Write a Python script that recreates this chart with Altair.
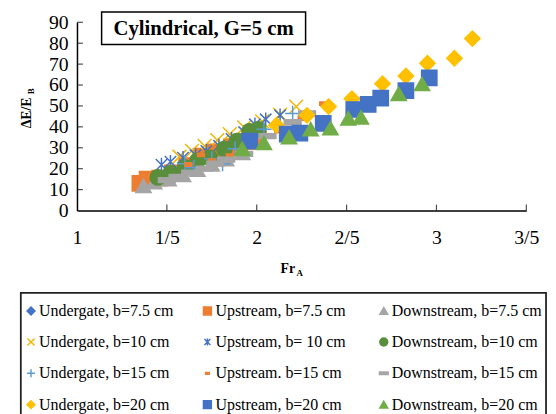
import altair as alt
import pandas as pd

series_names = [
    "Undergate, b=7.5 cm", "Upstream, b=7.5 cm", "Downstream, b=7.5 cm",
    "Undergate, b=10 cm", "Upstream, b= 10 cm", "Downstream, b=10 cm",
    "Undergate, b=15 cm", "Upstream. b=15 cm", "Downstream, b=15 cm",
    "Undergate, b=20 cm", "Upstream, b=20 cm", "Downstream, b=20 cm",
]
series_colors = [
    "#4472C4", "#ED7D31", "#A5A5A5",
    "#F2B600", "#4472C4", "#588E3C",
    "#5B9BD5", "#ED7D31", "#A5A5A5",
    "#FFC000", "#4472C4", "#70AD47",
]
series_shapes = [
    "diamond", "square", "triangle-up",
    "M-0.9,-0.9L0.9,0.9M-0.9,0.9L0.9,-0.9",
    "M-0.75,-0.75L0.75,0.75M-0.75,0.75L0.75,-0.75M0,-0.9L0,0.9",
    "circle",
    "M-1,0H1M0,-1V1",
    "M-0.45,-0.22H0.45V0.22H-0.45Z",
    "M-1.1,-0.32H1.1V0.32H-1.1Z",
    "diamond", "square", "triangle-up",
]

# Fr_A values per series
x_vals = [
    [1.45, 1.52, 1.60, 1.67, 1.74, 1.82],
    [1.35, 1.39, 1.46, 1.53, 1.61, 1.69, 1.77, 1.86, 1.95, 2.01],
    [1.37, 1.43, 1.51, 1.59, 1.67, 1.75, 1.83, 1.92],
    [1.57, 1.64, 1.71, 1.78, 1.85, 1.93, 2.03, 2.13, 2.22],
    [1.47, 1.52, 1.59, 1.66, 1.72, 1.79, 1.86, 1.93, 1.99, 2.05, 2.13],
    [1.45, 1.52, 1.60, 1.67, 1.74, 1.82, 1.89, 1.96, 2.01],
    [1.60, 1.65, 1.75, 1.81, 1.88, 2.04, 2.20],
    [1.62, 1.69, 1.75, 1.85, 1.93, 2.01, 2.12, 2.25, 2.37],
    [1.50, 1.56, 1.63, 1.71, 1.77, 1.83, 1.93, 2.06, 2.20, 2.28],
    [2.11, 2.28, 2.40, 2.53, 2.70, 2.83, 2.95, 3.10, 3.20],
    [1.96, 2.17, 2.24, 2.37, 2.54, 2.62, 2.69, 2.83, 2.96],
    [1.92, 2.04, 2.18, 2.30, 2.41, 2.51, 2.58, 2.79, 2.92],
]
# dE/E_B values per series
y_vals = [
    [15.8, 17.7, 20.5, 23.8, 25.2, 29.4],
    [13.0, 15.0, 15.5, 18.0, 21.5, 26.0, 28.0, 30.5, 33.0, 34.0],
    [11.8, 13.5, 15.0, 17.0, 19.5, 22.0, 24.5, 27.5],
    [25.7, 28.5, 30.9, 33.7, 36.5, 39.8, 42.6, 45.9, 49.7],
    [21.9, 23.3, 25.2, 26.5, 28.5, 31.0, 34.2, 37.5, 41.2, 43.6, 45.5],
    [15.8, 17.7, 20.5, 23.8, 25.2, 29.4, 33.2, 37.9, 38.8],
    [22.4, 20.5, 24.7, 22.4, 29.5, 38.9, 46.4],
    [22.0, 26.6, 23.8, 26.2, 30.0, 33.7, 38.0, 44.0, 51.1],
    [14.5, 16.0, 18.1, 20.0, 22.4, 24.3, 27.1, 35.6, 42.2, 46.4],
    [40.8, 45.5, 49.7, 53.5, 60.6, 64.3, 70.4, 72.8, 82.2],
    [33.2, 36.5, 37.0, 41.7, 48.3, 50.7, 53.7, 57.3, 63.4],
    [29.5, 32.3, 35.1, 38.9, 39.4, 44.1, 44.5, 55.8, 60.5],
]

x_ticks = [1, 1.5, 2, 2.5, 3, 3.5]
y_ticks = [0, 10, 20, 30, 40, 50, 60, 70, 80, 90]
chart_title = "Cylindrical, G=5 cm"

rows = []
for i, name in enumerate(series_names):
    for xv, yv in zip(x_vals[i], y_vals[i]):
        rows.append({"series": name, "order": i, "Fr": xv, "dE": yv})
df = pd.DataFrame(rows)

W, H = 456, 191
SERIF = "Liberation Serif"

xscale = alt.Scale(domain=[1, 3.5], nice=False, zero=False)
yscale = alt.Scale(domain=[0, 90], nice=False)

x_axis = alt.Axis(
    values=x_ticks, labelExpr="replace(toString(datum.value), '.', '/')",
    labelFont=SERIF, labelFontSize=20, labelColor="black", labelPadding=17,
    labelFlush=False, labelOverlap=False, tickSize=0, domainColor="black",
    domainWidth=1.5, grid=False, title=None)
y_axis = alt.Axis(
    values=y_ticks, labelFont=SERIF, labelFontSize=20, labelColor="black",
    labelPadding=9, labelOverlap=False, labelFlush=False, tickSize=0,
    domainColor="black", domainWidth=1.5, grid=False, title=None)

legend = alt.Legend(
    orient="none", legendX=-54.75, legendY=284.5, columns=3, direction="horizontal",
    gridAlign="all", columnPadding=10, rowPadding=14.8, padding=0,
    labelFont=SERIF, labelFontSize=16.2, labelColor="black",
    labelLimit=400, symbolSize=64, labelOffset=0, symbolStrokeWidth=1.5,
    title=None,
)

points = alt.Chart(df).mark_point(filled=True, size=240, strokeWidth=1.5, opacity=1).encode(
    x=alt.X("Fr:Q", scale=xscale, axis=x_axis),
    y=alt.Y("dE:Q", scale=yscale, axis=y_axis),
    shape=alt.Shape("series:N", scale=alt.Scale(domain=series_names, range=series_shapes), legend=legend),
    fill=alt.Fill("series:N", scale=alt.Scale(domain=series_names, range=series_colors), title=None),
    stroke=alt.Stroke("series:N", scale=alt.Scale(domain=series_names, range=series_colors), title=None),
    order=alt.Order("order:Q"),
)

xt = pd.DataFrame({"v": x_ticks[1:]})
yt = pd.DataFrame({"v": y_ticks[1:]})
xticks = alt.Chart(xt).mark_tick(orient="vertical", color="black", thickness=1.2, size=6).encode(
    x=alt.X("v:Q", scale=xscale, axis=x_axis), y=alt.value(H - 3))
yticks = alt.Chart(yt).mark_tick(orient="horizontal", color="black", thickness=1.2, size=6).encode(
    y=alt.Y("v:Q", scale=yscale, axis=y_axis), x=alt.value(3))

tdf = pd.DataFrame({"t": [chart_title]})
tbox = alt.Chart(tdf).mark_rect(fill="white", stroke="black", strokeWidth=1.5).encode(
    x=alt.value(25), x2=alt.value(232), y=alt.value(-10.5), y2=alt.value(22.5))
ttext = alt.Chart(tdf).mark_text(font=SERIF, fontSize=21, fontWeight="bold", color="black",
                                 align="center", baseline="middle").encode(
    x=alt.value(128.5), y=alt.value(6.5), text="t:N")

# legend frame
lframe = alt.Chart(tdf).mark_rect(fill="white", stroke="#222222", strokeWidth=1.8).encode(
    x=alt.value(-57), x2=alt.value(476), y=alt.value(274.5), y2=alt.value(420))

lab = pd.DataFrame({"a": ["Fr"], "b": ["A"], "c": ["ΔE/E"], "d": ["B"]})
fr = alt.Chart(lab).mark_text(font=SERIF, fontSize=14, fontWeight="bold", color="black",
                              align="center", baseline="middle").encode(
    x=alt.value(214), y=alt.value(250), text="a:N")
fra = alt.Chart(lab).mark_text(font=SERIF, fontSize=9, fontWeight="bold", color="black",
                               align="center", baseline="middle").encode(
    x=alt.value(226), y=alt.value(254), text="b:N")
de = alt.Chart(lab).mark_text(font=SERIF, fontSize=14, fontWeight="bold", color="black",
                              align="center", baseline="middle", angle=270).encode(
    x=alt.value(-51), y=alt.value(92), text="c:N")
deb = alt.Chart(lab).mark_text(font=SERIF, fontSize=9, fontWeight="bold", color="black",
                               align="center", baseline="middle", angle=270).encode(
    x=alt.value(-47), y=alt.value(70), text="d:N")

chart = alt.layer(points, lframe, xticks, yticks, tbox, ttext, fr, fra, de, deb).properties(
    width=W, height=H,
    autosize=alt.AutoSizeParams(type="none"),
    padding={"left": 70, "top": 11.5, "right": 22, "bottom": 203.5},
    background="white",
).configure_view(stroke=None)

chart.save("out.html", embed_options={"renderer": "svg", "actions": False})
